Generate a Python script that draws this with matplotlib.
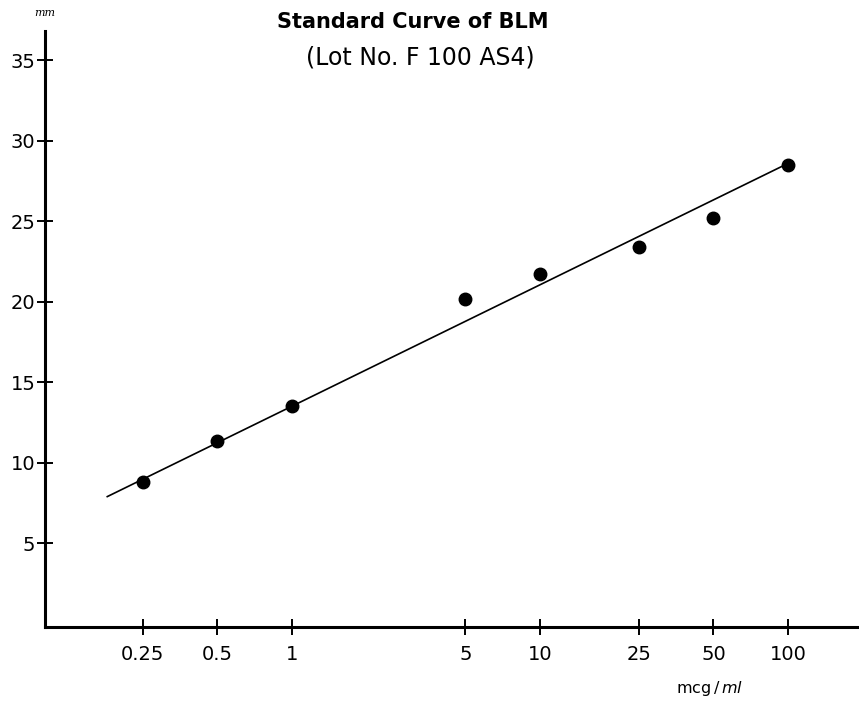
import numpy as np
import matplotlib
matplotlib.use("Agg")
import matplotlib.pyplot as plt
from matplotlib.ticker import FixedLocator, NullLocator, FixedFormatter

# concentration (mcg/ml) and zone size (mm)
conc = [0.25, 0.5, 1, 5, 10, 25, 50, 100]
zone = [8.8, 11.35, 13.5, 20.15, 21.7, 23.4, 25.2, 28.5]

# hand drawn standard line, two end points
line_x = [0.18, 100]
line_y = [7.9, 28.6]

xtick_vals = [0.25, 0.5, 1, 5, 10, 25, 50, 100]
xtick_labels = ["0.25", "0.5", "1", "5", "10", "25", "50", "100"]
ytick_vals = [5, 10, 15, 20, 25, 30, 35]

fig = plt.figure(figsize=(8.59, 7.05), dpi=100)
ax = fig.add_axes([0.0524, 0.1106, 0.9476, 0.845])

ax.plot(line_x, line_y, color="black", lw=1.2)
ax.plot(conc, zone, "o", color="black", ms=9)

ax.set_xscale("log")
ax.set_xlim(0.101, 193)
ax.set_ylim(-0.2, 36.8)

ax.xaxis.set_major_locator(FixedLocator(xtick_vals))
ax.xaxis.set_major_formatter(FixedFormatter(xtick_labels))
ax.xaxis.set_minor_locator(NullLocator())
ax.set_yticks(ytick_vals)

for s in ["top", "right"]:
    ax.spines[s].set_visible(False)
for s in ["left", "bottom"]:
    ax.spines[s].set_linewidth(2.2)

ax.tick_params(axis="both", direction="inout", length=12, width=1.4,
               labelsize=14, colors="black")
ax.tick_params(axis="x", pad=7)
ax.tick_params(axis="y", pad=1)

fig.text(0.481, 0.969, "Standard Curve of BLM", ha="center", va="center",
         fontsize=15, fontweight="bold")
fig.text(0.489, 0.919, "(Lot No. F 100 AS4)", ha="center", va="center",
         fontsize=17)
fig.text(0.052, 0.982, "mm", ha="center", va="center", fontsize=8,
         style="italic", family="serif")
fig.text(0.826, 0.024, r"mcg$\,/\,\mathit{ml}$", ha="center", va="center",
         fontsize=11.5)

fig.savefig("out.png", dpi=100)
